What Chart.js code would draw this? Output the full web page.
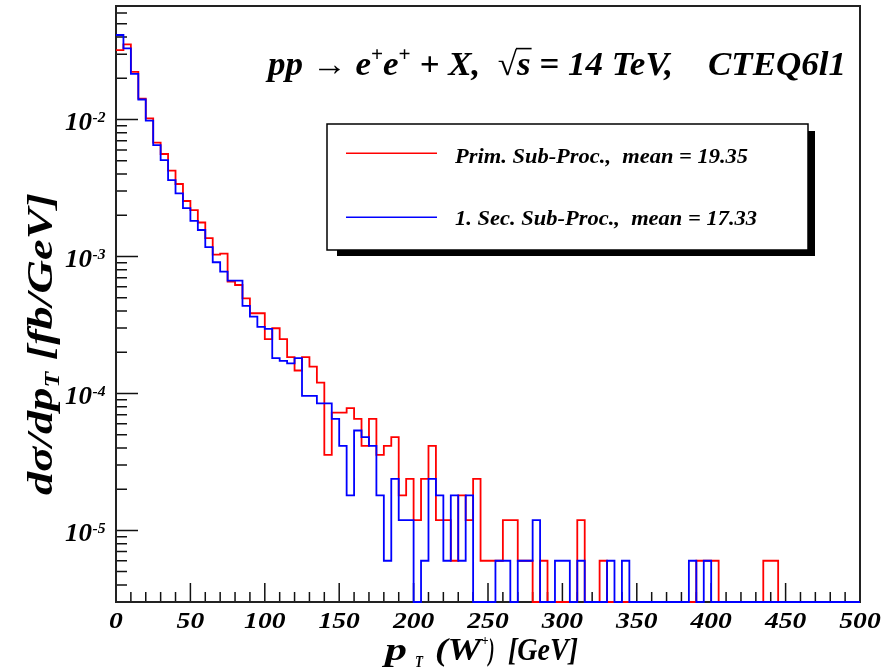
<!DOCTYPE html>
<html>
<head>
<meta charset="utf-8">
<script src="https://cdn.jsdelivr.net/npm/chart.js@4.4.0/dist/chart.umd.min.js"></script>
<style>
  html, body { margin: 0; padding: 0; background: #fff; }
</style>
</head>
<body>
<canvas id="ptChart" width="892" height="667"></canvas>
<script>
// bin edges of p_T(W+) in GeV
const binEdges = [0, 5, 10, 15, 20, 25, 30, 35, 40, 45, 50, 55, 60, 65, 70, 75, 80, 85, 90, 95,
  100, 105, 110, 115, 120, 125, 130, 135, 140, 145, 150, 155, 160, 165, 170, 175, 180, 185, 190, 195,
  200, 205, 210, 215, 220, 225, 230, 235, 240, 245, 250, 255, 260, 265, 270, 275, 280, 285, 290, 295,
  300, 305, 310, 315, 320, 325, 330, 335, 340, 345, 350, 355, 360, 365, 370, 375, 380, 385, 390, 395,
  400, 405, 410, 415, 420, 425, 430, 435, 440, 445, 450, 455, 460, 465, 470, 475, 480, 485, 490, 495, 500];

// d sigma / d pT [fb/GeV], primary sub-process (red)
const primValues = [
  0.0321, 0.0354, 0.0223, 0.0142, 0.0102, 0.00677, 0.00560, 0.00423, 0.00338, 0.00254,
  0.00218, 0.00177, 0.00136, 0.00103, 0.00105, 6.55e-4, 6.19e-4, 4.95e-4, 3.85e-4, 3.85e-4,
  2.49e-4, 2.99e-4, 2.49e-4, 1.84e-4, 1.47e-4, 1.84e-4, 1.57e-4, 1.20e-4, 3.56e-5, 7.24e-5,
  7.24e-5, 7.8e-5, 6.52e-5, 4.14e-5, 6.52e-5, 3.56e-5, 4.14e-5, 4.79e-5, 1.80e-5, 2.38e-5,
  1.19e-5, 2.38e-5, 4.14e-5, 1.19e-5, 1.19e-5, 6.0e-6, 1.80e-5, 1.19e-5, 2.38e-5, 6.0e-6,
  6.0e-6, 6.0e-6, 1.19e-5, 1.19e-5, 6.0e-6, 6.0e-6, 0, 6.0e-6, 0, 0,
  0, 0, 1.19e-5, 0, 0, 6.0e-6, 0, 0, 0, 0,
  0, 0, 0, 0, 0, 0, 0, 0, 6.0e-6, 6.0e-6,
  6.0e-6, 0, 0, 0, 0, 0, 0, 6.0e-6, 6.0e-6, 0,
  0, 0, 0, 0, 0, 0, 0, 0, 0, 0
];

// first secondary sub-process (blue)
const secValues = [
  0.0414, 0.0331, 0.0215, 0.0140, 0.0098, 0.00651, 0.00505, 0.00361, 0.00289, 0.00225,
  0.00182, 0.00156, 0.00117, 9.07e-4, 7.75e-4, 6.66e-4, 6.66e-4, 4.35e-4, 3.64e-4, 3.06e-4,
  2.96e-4, 1.81e-4, 1.73e-4, 1.66e-4, 1.81e-4, 9.6e-5, 9.6e-5, 8.47e-5, 8.47e-5, 6.52e-5,
  4.14e-5, 1.80e-5, 5.36e-5, 4.79e-5, 4.14e-5, 1.80e-5, 6.0e-6, 2.38e-5, 1.19e-5, 1.19e-5,
  0, 6.0e-6, 2.38e-5, 1.80e-5, 6.0e-6, 1.80e-5, 6.0e-6, 1.80e-5, 0, 0,
  0, 6.0e-6, 6.0e-6, 0, 6.0e-6, 6.0e-6, 1.19e-5, 0, 0, 6.0e-6,
  6.0e-6, 0, 6.0e-6, 0, 0, 0, 6.0e-6, 0, 6.0e-6, 0,
  0, 0, 0, 0, 0, 0, 0, 6.0e-6, 0, 6.0e-6,
  0, 0, 0, 0, 0, 0, 0, 0, 0, 0,
  0, 0, 0, 0, 0, 0, 0, 0, 0, 0
];

const primMean = 19.35;
const secMean = 17.33;

const xTickLabels = [0, 50, 100, 150, 200, 250, 300, 350, 400, 450, 500];
const yDecades = [-2, -3, -4, -5];
const yMin = 3.0e-6;
const yMax = 0.0674;

const FONT = '"Liberation Serif", "DejaVu Serif", serif';

// histogram -> stepped points (empty bins sit on the axis floor)
function toSteps(values) {
  const pts = values.map((v, i) => ({ x: binEdges[i], y: v > 0 ? v : yMin }));
  pts.push({ x: binEdges[values.length], y: pts[pts.length - 1].y });
  return pts;
}

function setFont(ctx, size, upright) {
  ctx.font = (upright ? '' : 'italic ') + 'bold ' + size + 'px ' + FONT;
}

// draw text starting at x, squeezed/stretched to a given width
function fitText(ctx, str, x, yBase, size, width, align) {
  setFont(ctx, size);
  const w = ctx.measureText(str).width;
  const sx = width ? width / w : 1;
  ctx.save();
  ctx.translate(x, yBase);
  ctx.scale(sx, 1);
  ctx.textAlign = align || 'left';
  ctx.textBaseline = 'alphabetic';
  ctx.fillText(str, 0, 0);
  ctx.restore();
}

// runs of text with super/subscripts, fitted to a total length
function drawRuns(ctx, runs, length) {
  let total = 0;
  runs.forEach(r => { setFont(ctx, r.size, r.up); r.w = ctx.measureText(r.t).width; total += r.w; });
  const sx = length / total;
  ctx.save();
  ctx.scale(sx, 1);
  ctx.textAlign = 'left';
  ctx.textBaseline = 'alphabetic';
  let cx = 0;
  runs.forEach(r => {
    setFont(ctx, r.size, r.up);
    ctx.fillText(r.t, cx, r.dy || 0);
    if (r.bar) {
      ctx.lineWidth = 1.6;
      ctx.beginPath();
      ctx.moveTo(cx - 1, -r.size * 0.80);
      ctx.lineTo(cx + r.w + 1, -r.size * 0.80);
      ctx.stroke();
    }
    cx += r.w;
  });
  ctx.restore();
}

const rootStyle = {
  id: 'rootStyle',
  beforeDatasetsDraw(chart) {
    const { ctx, chartArea: a, scales: { x, y } } = chart;
    ctx.save();
    ctx.strokeStyle = '#111';
    ctx.lineWidth = 1.5;
    ctx.beginPath();
    // x ticks pointing inside, major every 50, minor every 10
    for (let v = 0; v <= 500; v += 10) {
      const px = x.getPixelForValue(v);
      const len = v % 50 === 0 ? 19 : 10;
      ctx.moveTo(px, a.bottom);
      ctx.lineTo(px, a.bottom - len);
    }
    // y ticks (log), major at decades
    for (let e = -6; e <= -1; e++) {
      for (let m = 1; m <= 9; m++) {
        const v = m * Math.pow(10, e);
        if (v < yMin * 0.999 || v > yMax) continue;
        const py = y.getPixelForValue(v);
        ctx.moveTo(a.left, py);
        ctx.lineTo(a.left + (m === 1 ? 22 : 11), py);
      }
    }
    ctx.stroke();
    ctx.lineWidth = 2;
    ctx.strokeStyle = '#222';
    ctx.strokeRect(a.left, a.top, a.right - a.left, a.bottom - a.top);
    ctx.restore();
  },
  afterDraw(chart) {
    const { ctx, scales: { x, y } } = chart;
    ctx.save();
    ctx.fillStyle = '#000';
    ctx.strokeStyle = '#000';

    // x tick labels
    xTickLabels.forEach(v => {
      const px = x.getPixelForValue(v);
      setFont(ctx, 23);
      ctx.save();
      ctx.translate(px, 628);
      ctx.scale(1.2, 1);
      ctx.textAlign = 'center';
      ctx.fillText(String(v), 0, 0);
      ctx.restore();
    });

    // y tick labels 10^-n
    yDecades.forEach(e => {
      const py = y.getPixelForValue(Math.pow(10, e));
      fitText(ctx, '10', 65, py + 10.5, 26, 27);
      fitText(ctx, '-' + Math.abs(e), 92.5, py + 2.2, 15, 13);
    });

    // x axis title
    fitText(ctx, 'p', 385, 660, 31, 22);
    fitText(ctx, 'T', 415, 667, 16, 8);
    fitText(ctx, '(W', 435, 660, 31, 46);
    fitText(ctx, '+', 481.5, 645, 15, 7);
    fitText(ctx, ')', 488.5, 660, 31, 6);
    fitText(ctx, '[GeV]', 508, 660, 31, 70);

    // y axis title (rotated)
    ctx.save();
    ctx.translate(52, 495);
    ctx.rotate(-Math.PI / 2);
    drawRuns(ctx, [
      { t: 'd\u03C3/dp', size: 36 },
      { t: 'T', size: 20, dy: 7 },
      { t: ' [fb/GeV]', size: 36 }
    ], 302);
    ctx.restore();

    // process title
    ctx.save();
    ctx.translate(268, 75);
    drawRuns(ctx, [
      { t: 'pp ', size: 33 },
      { t: '\u2192', size: 33, up: true },
      { t: ' e', size: 33 },
      { t: '+', size: 20, dy: -14, up: true },
      { t: 'e', size: 33 },
      { t: '+', size: 20, dy: -14, up: true },
      { t: ' + X,  ', size: 33 },
      { t: '\u221A', size: 33, up: true },
      { t: 's', size: 33, bar: true },
      { t: ' = 14 TeV,    CTEQ6l1', size: 33 }
    ], 578);
    ctx.restore();

    // legend box with shadow
    const bx = 327, by = 124, bw = 481, bh = 126;
    ctx.fillStyle = '#000';
    ctx.fillRect(bx + 10, by + bh, bw - 3, 6);
    ctx.fillRect(bx + bw, by + 7, 7, bh - 1);
    ctx.fillStyle = '#fff';
    ctx.fillRect(bx, by, bw, bh);
    ctx.lineWidth = 1.5;
    ctx.strokeStyle = '#000';
    ctx.strokeRect(bx, by, bw, bh);

    const ds = chart.data.datasets;
    const rows = [
      { d: ds[0], ly: 153.3, ty: 162.7, tw: 293 },
      { d: ds[1], ly: 217.3, ty: 225, tw: 302 }
    ];
    rows.forEach(r => {
      ctx.strokeStyle = r.d.borderColor;
      ctx.lineWidth = 1.5;
      ctx.beginPath();
      ctx.moveTo(346, r.ly);
      ctx.lineTo(437, r.ly);
      ctx.stroke();
      ctx.fillStyle = '#000';
      fitText(ctx, r.d.label, 455, r.ty, 21, r.tw);
    });
    ctx.restore();
  }
};

const ctx = document.getElementById('ptChart').getContext('2d');
new Chart(ctx, {
  type: 'line',
  data: {
    datasets: [
      {
        label: 'Prim. Sub-Proc.,  mean = ' + primMean.toFixed(2),
        data: toSteps(primValues),
        borderColor: '#ff0000',
        borderWidth: 1.8,
        stepped: 'before',
        pointRadius: 0,
        fill: false,
        clip: false,
        order: 1
      },
      {
        label: '1. Sec. Sub-Proc.,  mean = ' + secMean.toFixed(2),
        data: toSteps(secValues),
        borderColor: '#0000ff',
        borderWidth: 1.8,
        stepped: 'before',
        pointRadius: 0,
        fill: false,
        clip: false,
        order: 0
      }
    ]
  },
  options: {
    responsive: false,
    animation: false,
    parsing: true,
    layout: { padding: { left: 116, top: 6, right: 32, bottom: 65 } },
    scales: {
      x: { type: 'linear', min: 0, max: 500, display: false },
      y: { type: 'logarithmic', min: yMin, max: yMax, display: false }
    },
    plugins: {
      legend: { display: false },
      tooltip: { enabled: false }
    }
  },
  plugins: [rootStyle]
});
</script>
</body>
</html>
